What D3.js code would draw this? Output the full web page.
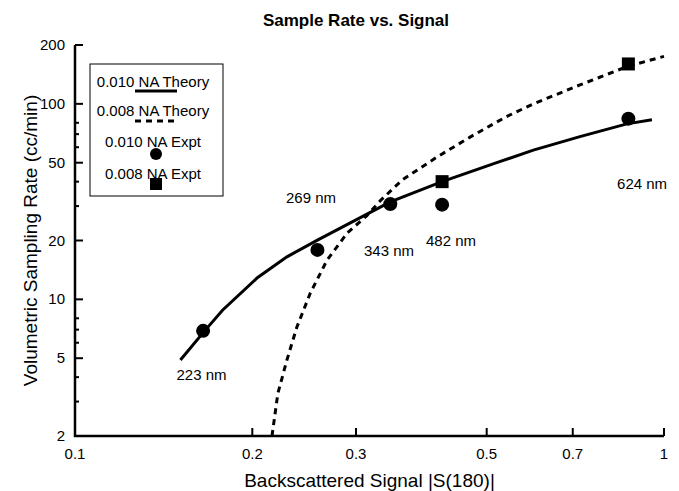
<!DOCTYPE html>
<html lang="en">
<head>
    <meta charset="UTF-8">
    <title>Sample Rate vs. Signal</title>
    <style>
        body { margin: 0; background: #fff; }
        svg text { font-family: "Liberation Sans", Arial, Helvetica, sans-serif; fill: #000; }
        .axis-line { stroke: #000; stroke-width: 2.5px; fill: none; }
        .tick { stroke: #000; stroke-width: 2px; }
        .tick-label { font-size: 15px; }
        .axis-title { font-size: 19px; }
        .title { font-size: 17px; font-weight: bold; }
        .wl-label { font-size: 15px; }
        .legend-text { font-size: 15px; }
    </style>
</head>
<body>
    <div id="chart"></div>

    <script src="https://cdn.jsdelivr.net/npm/d3@7"></script>
    <script>
        // axis ticks
        const xTicks = [0.1, 0.2, 0.3, 0.5, 0.7, 1];
        const yTicks = [2, 5, 10, 20, 50, 100, 200];
        const yMinorTicks = [3, 4, 6, 7, 8, 30, 40, 60, 70, 80];

        // theory curves [signal, rate]
        const theory010 = [
            [0.151, 4.9], [0.166, 6.9], [0.178, 8.8], [0.204, 12.9], [0.229, 16.5],
            [0.258, 20.1], [0.30, 25.5], [0.343, 31.5], [0.42, 40], [0.52, 50],
            [0.60, 58], [0.72, 68], [0.865, 79], [0.954, 83]
        ];
        const theory008 = [
            [0.216, 2], [0.221, 3.3], [0.229, 4.9], [0.238, 7.2], [0.251, 10.8],
            [0.268, 15.9], [0.29, 21.9], [0.313, 26.8], [0.33, 32], [0.36, 41],
            [0.41, 53], [0.47, 68], [0.54, 86], [0.60, 100], [0.72, 125],
            [0.865, 155], [1.0, 175]
        ];

        // experiments
        const expt010 = [[0.165, 6.9], [0.258, 17.9], [0.343, 30.7], [0.42, 30.5], [0.87, 84]];
        const expt008 = [[0.42, 40], [0.87, 160]];

        // wavelength annotations (data coords)
        const wlLabels = ["223 nm", "269 nm", "343 nm", "482 nm", "624 nm"];
        const wlX = [0.164, 0.2516, 0.3413, 0.4349, 0.918];
        const wlY = [4.1, 33.0, 17.7, 19.9, 38.9];

        const legendLabels = ["0.010 NA Theory", "0.008 NA Theory", "0.010 NA Expt", "0.008 NA Expt"];

        const width = 679;
        const height = 491;
        const margin = { left: 75, right: 15, top: 45, bottom: 55 };

        const svg = d3.select("#chart")
            .append("svg")
            .attr("width", width)
            .attr("height", height);

        const x = d3.scaleLog().domain([0.1, 1]).range([margin.left, width - margin.right]);
        const y = d3.scaleLog().domain([2, 200]).range([height - margin.bottom, margin.top]);

        const x0 = x.range()[0], x1 = x.range()[1];
        const yb = y.range()[0], yt = y.range()[1];

        // title
        svg.append("text")
            .attr("class", "title")
            .attr("x", 356)
            .attr("y", 26)
            .attr("text-anchor", "middle")
            .text("Sample Rate vs. Signal");

        // axis lines
        svg.append("path")
            .attr("class", "axis-line")
            .attr("d", `M${x0},${yt}V${yb}H${x1}`);

        // y ticks
        svg.selectAll(".ytick")
            .data(yTicks)
            .enter().append("line")
            .attr("class", "tick")
            .attr("x1", x0).attr("x2", x0 + 8)
            .attr("y1", d => y(d)).attr("y2", d => y(d));

        svg.selectAll(".yminor")
            .data(yMinorTicks)
            .enter().append("line")
            .attr("class", "tick")
            .attr("x1", x0).attr("x2", x0 + 4)
            .attr("y1", d => y(d)).attr("y2", d => y(d));

        svg.selectAll(".ylabel")
            .data(yTicks)
            .enter().append("text")
            .attr("class", "tick-label")
            .attr("x", x0 - 10)
            .attr("y", d => y(d) + 5)
            .attr("text-anchor", "end")
            .text(d => d);

        // x ticks
        svg.selectAll(".xtick")
            .data(xTicks)
            .enter().append("line")
            .attr("class", "tick")
            .attr("x1", d => x(d)).attr("x2", d => x(d))
            .attr("y1", yb).attr("y2", yb - 8);

        svg.selectAll(".xlabel")
            .data(xTicks)
            .enter().append("text")
            .attr("class", "tick-label")
            .attr("x", d => x(d))
            .attr("y", yb + 23)
            .attr("text-anchor", "middle")
            .text(d => d);

        // axis titles
        svg.append("text")
            .attr("class", "axis-title")
            .attr("x", (x0 + x1) / 2)
            .attr("y", 487)
            .attr("text-anchor", "middle")
            .text("Backscattered Signal |S(180)|");

        svg.append("text")
            .attr("class", "axis-title")
            .attr("transform", `translate(37,${(yt + yb) / 2}) rotate(-90)`)
            .attr("text-anchor", "middle")
            .text("Volumetric Sampling Rate (cc/min)");

        // theory lines
        const line = d3.line().x(d => x(d[0])).y(d => y(d[1]));

        svg.append("path")
            .datum(theory010)
            .attr("d", line)
            .attr("fill", "none")
            .attr("stroke", "#000")
            .attr("stroke-width", 3);

        svg.append("path")
            .datum(theory008)
            .attr("d", line)
            .attr("fill", "none")
            .attr("stroke", "#000")
            .attr("stroke-width", 3)
            .attr("stroke-dasharray", "6,5");

        // markers
        svg.selectAll(".c010")
            .data(expt010)
            .enter().append("circle")
            .attr("cx", d => x(d[0]))
            .attr("cy", d => y(d[1]))
            .attr("r", 7)
            .attr("fill", "#000");

        svg.selectAll(".s008")
            .data(expt008)
            .enter().append("rect")
            .attr("x", d => x(d[0]) - 6.5)
            .attr("y", d => y(d[1]) - 6.5)
            .attr("width", 13)
            .attr("height", 13)
            .attr("fill", "#000");

        // wavelength labels
        svg.selectAll(".wl")
            .data(wlLabels)
            .enter().append("text")
            .attr("class", "wl-label")
            .attr("x", (d, i) => x(wlX[i]))
            .attr("y", (d, i) => y(wlY[i]) + 5)
            .attr("text-anchor", "middle")
            .text(d => d);

        // legend
        const lg = svg.append("g").attr("transform", "translate(90,64)");
        lg.append("rect")
            .attr("width", 133).attr("height", 132)
            .attr("fill", "#fff")
            .attr("stroke", "#000")
            .attr("stroke-width", 1);

        const textY = [23, 52, 83, 115];
        lg.selectAll(".legend-text")
            .data(legendLabels)
            .enter().append("text")
            .attr("class", "legend-text")
            .attr("x", 63)
            .attr("y", (d, i) => textY[i])
            .attr("text-anchor", "middle")
            .text(d => d);

        lg.append("line")
            .attr("x1", 45).attr("x2", 87).attr("y1", 27).attr("y2", 27)
            .attr("stroke", "#000").attr("stroke-width", 3);
        lg.append("line")
            .attr("x1", 45).attr("x2", 87).attr("y1", 57).attr("y2", 57)
            .attr("stroke", "#000").attr("stroke-width", 3)
            .attr("stroke-dasharray", "6,5");
        lg.append("circle")
            .attr("cx", 66).attr("cy", 90).attr("r", 6)
            .attr("fill", "#000");
        lg.append("rect")
            .attr("x", 60).attr("y", 114).attr("width", 12).attr("height", 12)
            .attr("fill", "#000");
    </script>
</body>
</html>
